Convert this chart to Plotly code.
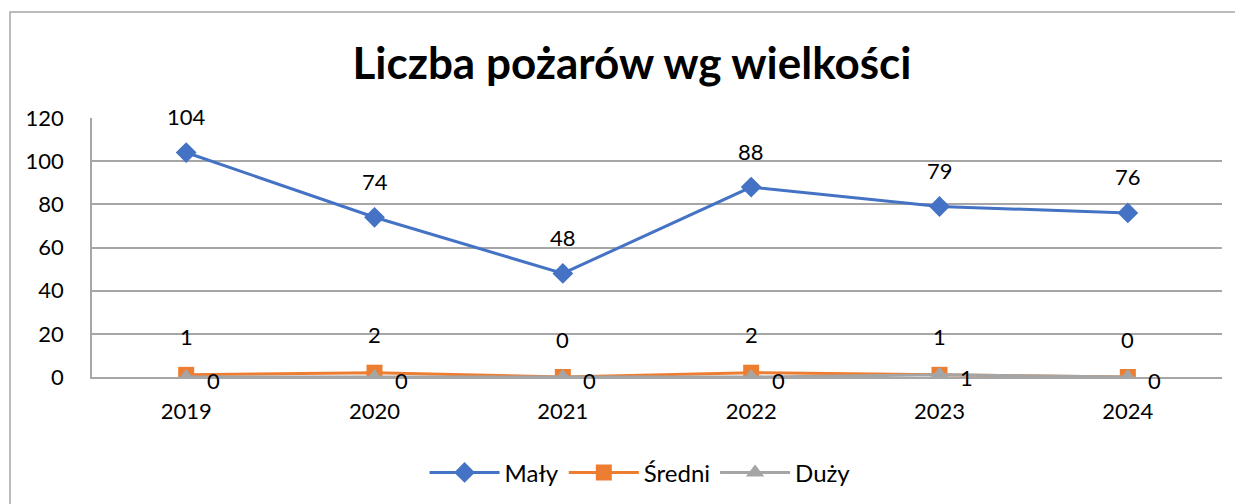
import plotly.graph_objects as go

years = ["2019", "2020", "2021", "2022", "2023", "2024"]
maly = [104, 74, 48, 88, 79, 76]
sredni = [1, 2, 0, 2, 1, 0]
duzy = [0, 0, 0, 0, 1, 0]
series_names = ["Mały", "Średni", "Duży"]
title_text = "Liczba pożarów wg wielkości"
y_ticks = [0, 20, 40, 60, 80, 100, 120]

FONT = "Lato"
blue = "#4472C4"
orange = "#ED7D31"
gray = "#A5A5A5"

fig = go.Figure()
fig.add_trace(go.Scatter(x=years, y=maly, name=series_names[0], mode="lines+markers",
                         line=dict(color=blue, width=3),
                         marker=dict(symbol="diamond", size=16, color=blue)))
fig.add_trace(go.Scatter(x=years, y=sredni, name=series_names[1], mode="lines+markers",
                         line=dict(color=orange, width=3),
                         marker=dict(symbol="square", size=16, color=orange)))
fig.add_trace(go.Scatter(x=years, y=duzy, name=series_names[2], mode="lines+markers",
                         line=dict(color=gray, width=3),
                         marker=dict(symbol="triangle-up", size=16, color=gray)))

ann = []
for i, v in enumerate(maly):
    ann.append(dict(x=i, y=v, xref="x", yref="y", text=str(v), showarrow=False, yshift=36,
                    font=dict(size=22, color="black", family=FONT)))
for i, v in enumerate(sredni):
    ann.append(dict(x=i, y=v, xref="x", yref="y", text=str(v), showarrow=False, yshift=38,
                    font=dict(size=22, color="black", family=FONT)))
for i, v in enumerate(duzy):
    ann.append(dict(x=i, y=v, xref="x", yref="y", text=str(v), showarrow=False, xshift=27, yshift=-3,
                    font=dict(size=22, color="black", family=FONT)))

fig.update_layout(
    width=1243, height=504,
    margin=dict(l=84, r=29, t=110, b=135, autoexpand=False),
    paper_bgcolor="white", plot_bgcolor="white",
    font=dict(family=FONT, color="black", size=22),
    title=dict(text="<b>" + title_text + "</b>", x=0.502, xanchor="center",
               y=0.89, yanchor="middle", font=dict(size=44, family=FONT, color="black")),
    showlegend=True,
    legend=dict(orientation="h", x=0.485, xanchor="center", y=-0.37, yanchor="middle",
                font=dict(size=24, family=FONT, color="black"), itemwidth=70,
                traceorder="normal"),
    annotations=ann,
    shapes=[dict(type="rect", xref="paper", yref="paper",
                 x0=(10 - 92) / 1130, x1=1.2, y0=-1, y1=(377 - 12) / 259,
                 line=dict(color="#A6A6A6", width=1.5), fillcolor="rgba(0,0,0,0)",
                 layer="below")],
)
fig.update_xaxes(type="category", range=[-0.5, 5.5], showgrid=False, showline=True,
                 linecolor="#A6A6A6", linewidth=1.5, ticks="", tickfont=dict(size=22),
                 zeroline=False, ticklabelstandoff=14)
fig.update_yaxes(range=[0, 120], tickvals=y_ticks, showgrid=True, gridcolor="#A6A6A6",
                 gridwidth=1.5, showline=True, linecolor="#A6A6A6", linewidth=1.5,
                 ticks="", tickfont=dict(size=22), zeroline=False, ticklabelstandoff=22)

fig.write_html("out.html")
